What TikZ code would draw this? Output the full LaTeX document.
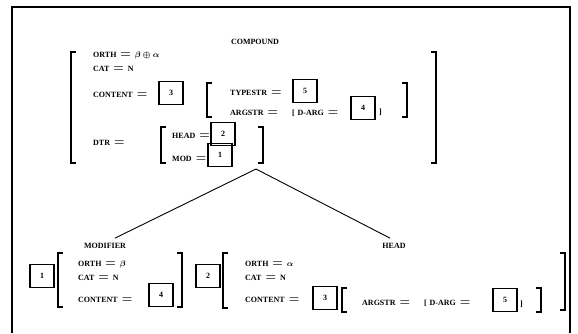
\documentclass[tikz,border=0pt]{standalone}
\usepackage{amsmath}
\usepackage{fontspec}
\setmainfont{Liberation Serif}
\newcommand\eqs{\hspace{4pt}{\fontsize{12}{12}\selectfont$=$}\hspace{4pt}}
\begin{document}
\begin{tikzpicture}[x=1pt,y=-1pt,
  font=\fontsize{8}{9}\selectfont\bfseries\boldmath,
  lbl/.style={anchor=west,inner sep=0pt},
  tag/.style={draw,line width=1.1pt,minimum width=24pt,minimum height=23pt,inner sep=0pt},
  brk/.style={line width=1.4pt},
  link/.style={line width=0.9pt}]
\useasboundingbox (0,0) rectangle (578,333);
\draw[line width=1.2pt] (12,333) -- (12,7) -- (570,7) -- (570,333);
\newcommand\lbrk[3]{\draw[brk] (#1+5,#2) -- (#1,#2) -- (#1,#3) -- (#1+5,#3);}
\newcommand\rbrk[3]{\draw[brk] (#1-5,#2) -- (#1,#2) -- (#1,#3) -- (#1-5,#3);}
% top structure
\node[inner sep=0pt] (compound) at (255,42) {COMPOUND};
\lbrk{71}{52}{163}\rbrk{436}{52}{163}
\node[lbl] (orth) at (93,55) {ORTH\eqs$\beta\oplus\alpha$};
\node[lbl] (cat) at (93,69) {CAT\eqs N};
\node[lbl] (content) at (93,95) {CONTENT\eqs};
\node[tag] (b3) at (171,93) {3};
\lbrk{207}{83}{117}\rbrk{407}{83}{117}
\node[lbl] (typestr) at (230,93) {TYPESTR\eqs};
\node[tag] (b5) at (305,91) {5};
\node[lbl] (argstr) at (230,113) {ARGSTR\eqs\hspace{10pt}[\hspace{3pt}D-ARG\eqs};
\node[tag] (b4) at (363,108) {4};
\node[lbl] (argclose) at (379,112) {]};
\node[lbl] (dtr) at (93,143) {DTR\eqs};
\lbrk{161}{127}{163}\rbrk{263}{127}{163}
\node[lbl] (head) at (172,136) {HEAD\eqs};
\node[tag] (b2) at (223,134) {2};
\node[lbl] (mod) at (172,159) {MOD\eqs};
\node[tag] (b1) at (220,155) {1};
\coordinate (apex) at (256,169);
% labels and lines
\node[inner sep=0pt] (modlbl) at (105,246) {MODIFIER};
\node[inner sep=0pt] (headlbl) at (394,246) {HEAD};
\draw[link] (apex) -- ([xshift=10pt,yshift=5pt]modlbl.north);
\draw[link] (apex) -- ([xshift=-4pt,yshift=5pt]headlbl.north);
% modifier
\node[tag] (m1) at (42,276) {1};
\lbrk{58}{253}{307}\rbrk{182}{253}{307}
\node[lbl] (morth) at (78,264) {ORTH\eqs$\beta$};
\node[lbl] (mcat) at (78,278) {CAT\eqs N};
\node[lbl] (mcontent) at (78,300) {CONTENT\eqs};
\node[tag] (m4) at (161,295) {4};
% head
\node[tag] (h2) at (208,276) {2};
\lbrk{223}{253}{308}\rbrk{565}{253}{310}
\node[lbl] (horth) at (245,264) {ORTH\eqs$\alpha$};
\node[lbl] (hcat) at (245,278) {CAT\eqs N};
\node[lbl] (hcontent) at (245,300) {CONTENT\eqs};
\node[tag] (h3) at (325,298) {3};
\lbrk{342}{288}{312}\rbrk{541}{288}{312}
\node[lbl] (hargstr) at (362,303) {ARGSTR\eqs\hspace{10pt}[\hspace{3pt}D-ARG\eqs};
\node[tag] (h5) at (505,300) {5};
\node[lbl] (hargclose) at (520,304) {]};
\end{tikzpicture}
\end{document}
